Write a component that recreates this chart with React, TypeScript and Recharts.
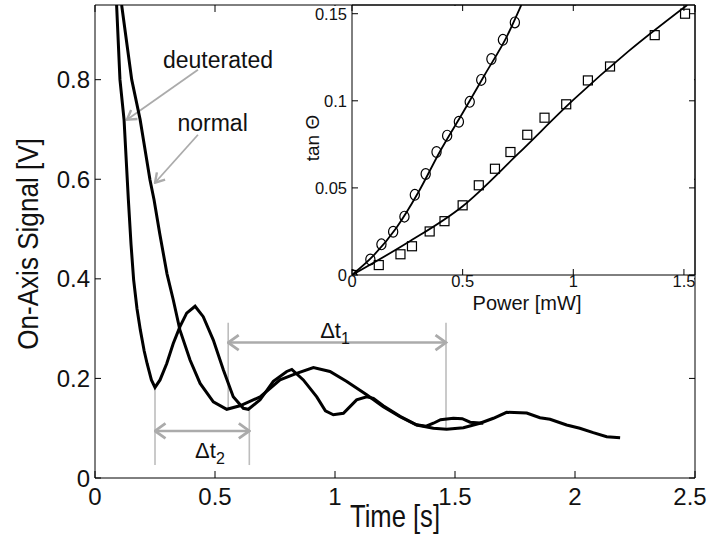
import React from 'react';
import { LineChart, Line, XAxis, YAxis, ReferenceLine, ReferenceDot, Label } from 'recharts';

// main plot: time [s] vs on-axis signal [V]
const timeTicks = [0, 0.5, 1, 1.5, 2, 2.5];
const signalTicks = [0, 0.2, 0.4, 0.6, 0.8];

// [t, v]
const deuteratedTrace: [number, number][] = [
  [0.09, 0.95], [0.104, 0.8], [0.121, 0.72], [0.139, 0.559], [0.15, 0.47], [0.161, 0.398],
  [0.175, 0.34], [0.189, 0.297], [0.205, 0.255], [0.217, 0.23], [0.235, 0.197], [0.25, 0.182],
  [0.271, 0.197], [0.299, 0.23], [0.326, 0.27], [0.354, 0.304], [0.382, 0.331], [0.417, 0.345],
  [0.451, 0.324], [0.493, 0.277], [0.535, 0.217], [0.576, 0.163], [0.618, 0.14], [0.639, 0.138],
  [0.688, 0.157], [0.743, 0.194], [0.799, 0.214], [0.82, 0.218], [0.868, 0.197], [0.924, 0.163],
  [0.96, 0.135], [0.993, 0.127], [1.035, 0.13], [1.09, 0.157], [1.132, 0.163], [1.16, 0.16],
  [1.201, 0.145], [1.271, 0.124], [1.34, 0.107], [1.38, 0.104], [1.41, 0.11], [1.44, 0.117],
  [1.493, 0.12], [1.53, 0.119], [1.563, 0.112], [1.618, 0.11],
];

const normalTrace: [number, number][] = [
  [0.111, 0.95], [0.153, 0.8], [0.188, 0.72], [0.229, 0.599], [0.246, 0.559], [0.27, 0.49],
  [0.3, 0.41], [0.326, 0.358], [0.354, 0.297], [0.396, 0.237], [0.438, 0.19], [0.493, 0.153],
  [0.549, 0.138], [0.604, 0.145], [0.688, 0.163], [0.771, 0.197], [0.84, 0.21], [0.91, 0.222],
  [0.979, 0.214], [1.049, 0.194], [1.132, 0.167], [1.201, 0.143], [1.271, 0.123], [1.34, 0.1065],
  [1.41, 0.1], [1.465, 0.098], [1.535, 0.101], [1.604, 0.11], [1.66, 0.12], [1.715, 0.132],
  [1.799, 0.1306], [1.854, 0.121], [1.896, 0.118], [1.965, 0.1065], [2.02, 0.1], [2.076, 0.091],
  [2.132, 0.083], [2.188, 0.081],
];

// inset: power [mW] vs tan theta
const powerTicks = [0, 0.5, 1, 1.5];
const tanTicks = [0, 0.05, 0.1, 0.15];

const circlePoints: [number, number][] = [
  [0, 0], [0.083, 0.0089], [0.133, 0.0176], [0.186, 0.0248], [0.237, 0.0335], [0.284, 0.046],
  [0.333, 0.058], [0.382, 0.0706], [0.43, 0.08], [0.483, 0.088], [0.532, 0.0994], [0.584, 0.112],
  [0.63, 0.124], [0.682, 0.135], [0.736, 0.145],
];
const squarePoints: [number, number][] = [
  [0, 0], [0.121, 0.0057], [0.219, 0.0119], [0.271, 0.0165], [0.351, 0.025], [0.418, 0.0309],
  [0.5, 0.04], [0.573, 0.0515], [0.646, 0.061], [0.716, 0.0706], [0.792, 0.0805], [0.87, 0.0903],
  [0.968, 0.098], [1.066, 0.1117], [1.166, 0.1197], [1.368, 0.1377], [1.505, 0.15],
];
const circleFit: [number, number][] = [
  [0, 0], [0.1, 0.0115], [0.2, 0.027], [0.3, 0.0475], [0.4, 0.0715], [0.5, 0.093],
  [0.6, 0.115], [0.7, 0.137], [0.765, 0.155],
];
const squareFit: [number, number][] = [
  [0, 0], [0.25, 0.0185], [0.5, 0.0395], [0.75, 0.0695], [1.0, 0.1005], [1.25, 0.1285], [1.515, 0.155],
];

const FONT = '"Liberation Sans", Arial, Helvetica, sans-serif';
const GRAY = '#ababab';

const toMain = (pts: [number, number][]) => pts.map(([t, v]) => ({ t, v }));
const toInset = (pts: [number, number][]) => pts.map(([p, tan]) => ({ p, tan }));

// main plot box (px)
const L = 95, R = 695, T = 5, B = 478;
// inset plot box (px, local)
const IL = 54, IR = 397, IT = 5, IB = 275;
const IW = 412, IH = 318;

const MainXTick = (props: any) => {
  const { x, payload } = props;
  // last label sits against the page edge
  const tx = Math.min(x, 690);
  return (
    <g>
      <line x1={x} x2={x} y1={B} y2={B - 7} stroke="#000" />
      <line x1={x} x2={x} y1={T} y2={T + 7} stroke="#000" />
      <text x={tx} y={505} textAnchor="middle" fontSize={24} fontFamily={FONT} fill="#111">{payload.value}</text>
    </g>
  );
};

const MainYTick = (props: any) => {
  const { y, payload } = props;
  return (
    <g>
      <line x1={L} x2={L + 6} y1={y} y2={y} stroke="#000" />
      <line x1={R} x2={R - 6} y1={y} y2={y} stroke="#000" />
      <text x={90} y={y} dy="0.36em" textAnchor="end" fontSize={24} fontFamily={FONT} fill="#111">{payload.value}</text>
    </g>
  );
};

const InsetXTick = (props: any) => {
  const { x, payload } = props;
  return (
    <g>
      <line x1={x} x2={x} y1={IB} y2={IB - 6} stroke="#000" />
      <line x1={x} x2={x} y1={IT} y2={IT + 6} stroke="#000" />
      <text x={x} y={287} textAnchor="middle" fontSize={16.5} fontFamily={FONT} fill="#111">{payload.value}</text>
    </g>
  );
};

const InsetYTick = (props: any) => {
  const { y, payload } = props;
  return (
    <g>
      <line x1={IL} x2={IL + 6} y1={y} y2={y} stroke="#000" />
      <line x1={IR} x2={IR - 6} y1={y} y2={y} stroke="#000" />
      <text x={49} y={y} dy="0.36em" textAnchor="end" fontSize={16.5} fontFamily={FONT} fill="#111">{payload.value}</text>
    </g>
  );
};

const TimeLabel = () => (
  <text transform="translate(395,527) scale(0.8,1)" textAnchor="middle" fontSize={32} fontFamily={FONT} fill="#111">
    Time [s]
  </text>
);
const SignalLabel = () => (
  <text transform="translate(38,244) rotate(-90) scale(0.9,1)" textAnchor="middle" fontSize={29} fontFamily={FONT} fill="#111">
    On-Axis Signal [V]
  </text>
);
const PowerLabel = () => (
  <text x={229} y={310} textAnchor="middle" fontSize={20} fontFamily={FONT} fill="#111">Power [mW]</text>
);
const TanLabel = () => (
  <text transform="translate(21,138) rotate(-90)" textAnchor="middle" fontSize={19} fontFamily={FONT} fill="#111">
    tan Θ
  </text>
);

const arrowShape = (width: number, head: string, both: boolean) => (p: any) => (
  <line
    x1={p.x1} y1={p.y1} x2={p.x2} y2={p.y2}
    stroke={GRAY} strokeWidth={width}
    markerStart={both ? `url(#${head})` : undefined}
    markerEnd={`url(#${head})`}
  />
);

const textShape = (text: string, size: number) => (p: any) => (
  <text x={p.cx} y={p.cy} textAnchor="middle" fontSize={size} fontFamily={FONT} fill="#111">{text}</text>
);

const deltaShape = (sub: string) => (p: any) => (
  <text x={p.cx} y={p.cy} textAnchor="middle" fontSize={22} fontFamily={FONT} fill="#111">
    Δt<tspan fontSize={16} dy={6}>{sub}</tspan>
  </text>
);

const CircleDot = (p: any) => (
  <ellipse key={p.index} cx={p.cx} cy={p.cy} rx={4.6} ry={5.4} fill="none" stroke="#000" strokeWidth={1.2} />
);
const SquareDot = (p: any) => (
  <rect key={p.index} x={p.cx - 4.5} y={p.cy - 4.5} width={9} height={9} fill="none" stroke="#000" strokeWidth={1.2} />
);

const vline = (t: number, v1: number, v2: number) => (
  <ReferenceLine
    key={`v${t}-${v1}`}
    segment={[{ x: t, y: v1 }, { x: t, y: v2 }]}
    stroke="#bdbdbd"
    strokeWidth={1.6}
  />
);

export default function App() {
  return (
    <div style={{ position: 'absolute', left: 0, top: 0, width: 710, height: 538, overflow: 'hidden', background: '#fff' }}>
      <svg width={0} height={0} style={{ position: 'absolute' }}>
        <defs>
          <marker id="headL" viewBox="0 0 14 18" refX={12.5} refY={9} markerWidth={14} markerHeight={18}
            markerUnits="userSpaceOnUse" orient="auto-start-reverse">
            <path d="M2,1.5 L12.5,9 L2,16.5" fill="none" stroke={GRAY} strokeWidth={2.8} />
          </marker>
          <marker id="headS" viewBox="0 0 12 14" refX={10.5} refY={7} markerWidth={12} markerHeight={14}
            markerUnits="userSpaceOnUse" orient="auto-start-reverse">
            <path d="M1.5,1.5 L10.5,7 L1.5,12.5" fill="none" stroke={GRAY} strokeWidth={2.4} />
          </marker>
        </defs>
      </svg>

      <div style={{ position: 'absolute', left: 0, top: 0 }}>
        <LineChart width={710} height={538} margin={{ top: T, right: 710 - R, left: 0, bottom: 0 }}>
          <XAxis type="number" dataKey="t" domain={[0, 2.5]} ticks={timeTicks} interval={0} allowDataOverflow
            height={538 - B} axisLine={{ stroke: '#000' }} tickLine={false} tick={MainXTick}>
            <Label content={TimeLabel} />
          </XAxis>
          <YAxis type="number" domain={[0, 0.95]} ticks={signalTicks} interval={0} allowDataOverflow
            width={L} axisLine={{ stroke: '#000' }} tickLine={false} tick={MainYTick}>
            <Label content={SignalLabel} />
          </YAxis>
          <ReferenceLine y={0.95} stroke="#000" />
          <ReferenceLine x={2.5} stroke="#000" />

          {vline(0.25, 0.183, 0.026)}
          {vline(0.555, 0.312, 0.137)}
          {vline(0.643, 0.143, 0.026)}
          {vline(1.4625, 0.312, 0.1005)}
          <ReferenceLine segment={[{ x: 0.555, y: 0.272 }, { x: 1.4625, y: 0.272 }]} shape={arrowShape(2.6, 'headL', true)} />
          <ReferenceLine segment={[{ x: 0.25, y: 0.0945 }, { x: 0.643, y: 0.0945 }]} shape={arrowShape(2.6, 'headL', true)} />
          <ReferenceLine segment={[{ x: 0.429, y: 0.82 }, { x: 0.133, y: 0.7196 }]} shape={arrowShape(1.8, 'headS', false)} />
          <ReferenceLine segment={[{ x: 0.429, y: 0.6894 }, { x: 0.25, y: 0.593 }]} shape={arrowShape(1.8, 'headS', false)} />

          <ReferenceDot x={0.5125} y={0.824} r={0} shape={textShape('deuterated', 23)} />
          <ReferenceDot x={0.49} y={0.6975} r={0} shape={textShape('normal', 23)} />
          <ReferenceDot x={1.0} y={0.281} r={0} shape={deltaShape('1')} />
          <ReferenceDot x={0.479} y={0.04} r={0} shape={deltaShape('2')} />

          <Line data={toMain(deuteratedTrace)} dataKey="v" type="linear" stroke="#000" strokeWidth={3}
            dot={false} activeDot={false} isAnimationActive={false} />
          <Line data={toMain(normalTrace)} dataKey="v" type="linear" stroke="#000" strokeWidth={3}
            dot={false} activeDot={false} isAnimationActive={false} />
        </LineChart>
      </div>

      {/* white backing for the inset */}
      <div style={{ position: 'absolute', left: 298, top: 6, width: 396, height: 308, background: '#fff' }} />

      <div style={{ position: 'absolute', left: 298, top: 0 }}>
        <LineChart width={IW} height={IH} margin={{ top: IT, right: IW - IR, left: 0, bottom: 0 }}>
          <XAxis type="number" dataKey="p" domain={[0, 1.55]} ticks={powerTicks} interval={0} allowDataOverflow
            height={IH - IB} axisLine={{ stroke: '#000' }} tickLine={false} tick={InsetXTick}>
            <Label content={PowerLabel} />
          </XAxis>
          <YAxis type="number" domain={[0, 0.155]} ticks={tanTicks} interval={0} allowDataOverflow
            width={IL} axisLine={{ stroke: '#000' }} tickLine={false} tick={InsetYTick}>
            <Label content={TanLabel} />
          </YAxis>
          <ReferenceLine y={0.155} stroke="#000" />
          <ReferenceLine x={1.55} stroke="#000" />
          <Line data={toInset(circleFit)} dataKey="tan" type="monotone" stroke="#000" strokeWidth={1.8}
            dot={false} activeDot={false} isAnimationActive={false} />
          <Line data={toInset(squareFit)} dataKey="tan" type="monotone" stroke="#000" strokeWidth={1.8}
            dot={false} activeDot={false} isAnimationActive={false} />
          <Line data={toInset(circlePoints)} dataKey="tan" stroke="none" dot={CircleDot}
            activeDot={false} isAnimationActive={false} />
          <Line data={toInset(squarePoints)} dataKey="tan" stroke="none" dot={SquareDot}
            activeDot={false} isAnimationActive={false} />
        </LineChart>
      </div>
    </div>
  );
}
